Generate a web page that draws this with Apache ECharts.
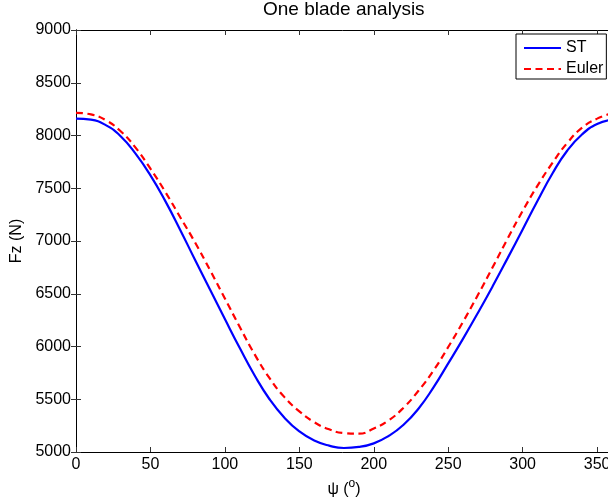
<!DOCTYPE html>
<html>
<head>
<meta charset="utf-8">
<script src="https://cdn.jsdelivr.net/npm/echarts@6/dist/echarts.min.js"></script>
<style>
  html, body { margin: 0; padding: 0; background: #fff; }
  #chart { width: 608px; height: 504px; }
</style>
</head>
<body>
<div id="chart"></div>
<script>
// rotor azimuth (deg)
var psi = [0, 10, 20, 30, 40, 50, 60, 70, 80, 90, 100, 110, 120, 130, 140, 150, 160, 170, 180,
           190, 200, 210, 220, 230, 240, 250, 260, 270, 280, 290, 300, 310, 320, 330, 340, 350, 360];
// Fz, ST model
var stFz = [8160, 8150, 8098, 7993, 7828, 7622, 7378, 7105, 6820, 6540, 6260, 5985, 5725, 5500, 5325, 5195, 5108, 5060, 5038,
            5048, 5082, 5152, 5258, 5410, 5610, 5840, 6075, 6320, 6575, 6840, 7110, 7382, 7640, 7858, 8012, 8108, 8150];
// Fz, Euler model
var eulerFz = [8215, 8200, 8145, 8040, 7885, 7685, 7465, 7225, 6985, 6725, 6455, 6185, 5925, 5700, 5520, 5385, 5283, 5215, 5180,
               5174, 5223, 5300, 5420, 5580, 5770, 5995, 6235, 6490, 6755, 7025, 7285, 7525, 7740, 7930, 8075, 8160, 8210];
var xTicks = {min: 0, max: 360, interval: 50};
var yTicks = {min: 5000, max: 9000, interval: 500};

var font = "'Liberation Sans', Arial, Helvetica, sans-serif";

function pairs(xs, ys) {
    var out = [];
    for (var i = 0; i < xs.length; i++) {
        out.push([xs[i], ys[i]]);
    }
    return out;
}

var chart = echarts.init(document.getElementById('chart'), null, {renderer: 'canvas'});

var tickStyle = {show: true, inside: true, length: 5, lineStyle: {color: '#333', width: 1}};
var lineStyle = {show: true, lineStyle: {color: '#000', width: 1}};

var option = {
    backgroundColor: '#fff',
    animation: false,
    title: {
        text: 'One blade analysis',
        left: 263,
        top: 0,
        padding: 0,
        textStyle: {fontFamily: font, fontSize: 19, fontWeight: 'normal', color: '#000'}
    },
    legend: {
        data: ['ST', 'Euler'],
        orient: 'vertical',
        left: 516,
        top: 34,
        padding: [6, 3, 2, 7],
        itemGap: 5,
        itemWidth: 37,
        itemHeight: 14,
        itemStyle: {opacity: 0},
        backgroundColor: '#fff',
        borderColor: '#000',
        borderWidth: 1,
        borderRadius: 0,
        textStyle: {fontFamily: font, fontSize: 16, color: '#000'}
    },
    grid: {
        left: 76,
        top: 30,
        width: 536,
        height: 422,
        containLabel: false,
        outerBoundsMode: 'none'
    },
    xAxis: [{
        type: 'value',
        min: xTicks.min, max: xTicks.max, interval: xTicks.interval,
        name: '{n|ψ (}{sup|o}{n|)}',
        nameLocation: 'middle',
        nameGap: 22,
        nameTextStyle: {
            fontFamily: font, color: '#000',
            rich: {
                n: {fontFamily: font, fontSize: 16, color: '#000', lineHeight: 20, verticalAlign: 'bottom'},
                sup: {fontFamily: font, fontSize: 12, color: '#000', lineHeight: 20, verticalAlign: 'top', padding: [0, 0, 6, 0]}
            }
        },
        axisLine: lineStyle,
        axisTick: tickStyle,
        axisLabel: {fontFamily: font, fontSize: 16, color: '#000', margin: 5, showMaxLabel: false},
        splitLine: {show: false}
    }, {
        type: 'value',
        position: 'top',
        min: xTicks.min, max: xTicks.max, interval: xTicks.interval,
        axisLine: lineStyle,
        axisTick: tickStyle,
        axisLabel: {show: false},
        splitLine: {show: false}
    }],
    yAxis: [{
        type: 'value',
        min: yTicks.min, max: yTicks.max, interval: yTicks.interval,
        name: 'Fz (N)',
        nameLocation: 'middle',
        nameGap: 48,
        nameTextStyle: {fontFamily: font, fontSize: 16, color: '#000'},
        axisLine: lineStyle,
        axisTick: tickStyle,
        axisLabel: {
            fontFamily: font, fontSize: 16, color: '#000', margin: 5,
            formatter: function (v) { return String(v); }
        },
        splitLine: {show: false}
    }, {
        type: 'value',
        position: 'right',
        min: yTicks.min, max: yTicks.max, interval: yTicks.interval,
        axisLine: lineStyle,
        axisTick: tickStyle,
        axisLabel: {show: false},
        splitLine: {show: false}
    }],
    series: [{
        name: 'ST',
        type: 'line',
        xAxisIndex: 0,
        yAxisIndex: 0,
        data: pairs(psi, stFz),
        smooth: true,
        symbol: 'none',
        lineStyle: {color: '#0000ff', width: 2.2, type: 'solid'},
        itemStyle: {color: '#0000ff'}
    }, {
        name: 'Euler',
        type: 'line',
        xAxisIndex: 0,
        yAxisIndex: 0,
        data: pairs(psi, eulerFz),
        smooth: true,
        symbol: 'none',
        lineStyle: {color: '#ff0000', width: 2.2, type: [7, 4.5]},
        itemStyle: {color: '#ff0000'}
    }]
};

chart.setOption(option);
</script>
</body>
</html>
